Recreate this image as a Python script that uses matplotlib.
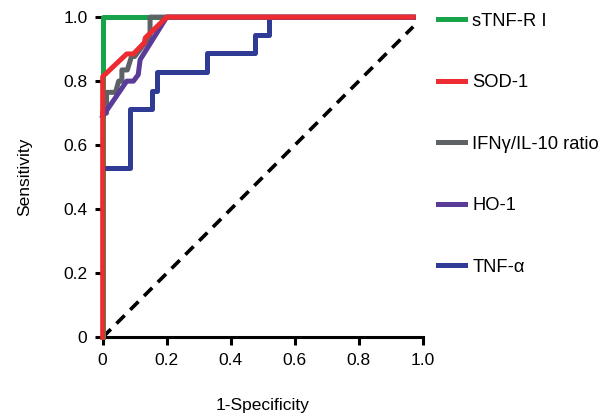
import matplotlib
matplotlib.use('Agg')
import matplotlib.pyplot as plt

plt.rcParams['font.family'] = ['Liberation Sans', 'DejaVu Sans']

# ROC curves (1-specificity, sensitivity)
stnf_x = [0, 0, 0.97]
stnf_y = [0, 1.0, 1.0]

sod_x = [0, 0, 0.075, 0.096, 0.13, 0.133, 0.2, 0.97]
sod_y = [0, 0.814, 0.885, 0.885, 0.92, 0.935, 1.0, 1.0]

ifn_x = [0, 0.012, 0.012, 0.04, 0.05, 0.06, 0.06, 0.077, 0.09, 0.10, 0.148, 0.148, 0.97]
ifn_y = [0.70, 0.70, 0.765, 0.765, 0.80, 0.80, 0.835, 0.835, 0.877, 0.877, 0.94, 1.0, 1.0]

ho_x = [0, 0.075, 0.096, 0.111, 0.117, 0.2, 0.97]
ho_y = [0.69, 0.80, 0.80, 0.82, 0.867, 1.0, 1.0]

tnf_x = [0, 0.085, 0.085, 0.153, 0.153, 0.169, 0.169, 0.325, 0.325, 0.476, 0.476, 0.518, 0.518, 0.97]
tnf_y = [0.53, 0.53, 0.713, 0.713, 0.77, 0.77, 0.83, 0.83, 0.8875, 0.8875, 0.945, 0.945, 1.0, 1.0]

ref_x = [0, 0.97]
ref_y = [0, 0.97]

tick_vals = [0, 0.2, 0.4, 0.6, 0.8, 1.0]
tick_labels = ['0', '0.2', '0.4', '0.6', '0.8', '1.0']

fig = plt.figure(figsize=(6.04, 4.17), dpi=100)
ax = fig.add_axes([0.17, 0.191, 0.53, 0.768])

lw = 3.6
ax.plot(ref_x, ref_y, color='black', lw=2.6, dashes=(3.2, 2.2), clip_on=False, zorder=3)
l1, = ax.plot(stnf_x, stnf_y, color='#17a34a', lw=lw, clip_on=False, zorder=4, label='sTNF-R I')
l5, = ax.plot(tnf_x, tnf_y, color='#2f3b94', lw=lw, clip_on=False, zorder=5, label='TNF-\u03b1')
l3, = ax.plot(ifn_x, ifn_y, color='#5c6265', lw=lw, clip_on=False, zorder=6, label='IFN\u03b3/IL-10 ratio')
l4, = ax.plot(ho_x, ho_y, color='#5a3b98', lw=lw, clip_on=False, zorder=7, label='HO-1')
l2, = ax.plot(sod_x, sod_y, color='#ee2b30', lw=lw, clip_on=False, zorder=8, label='SOD-1')

ax.set_xlim(0, 1)
ax.set_ylim(0, 1)
ax.set_xticks(tick_vals)
ax.set_xticklabels(tick_labels)
ax.set_yticks(tick_vals)
ax.set_yticklabels(tick_labels)
for s in ['top', 'right']:
    ax.spines[s].set_visible(False)
for s in ['left', 'bottom']:
    ax.spines[s].set_linewidth(2.2)
ax.tick_params(width=2.2, length=6, labelsize=12.5, pad=5)

ax.set_xlabel('1-Specificity', fontsize=12.5, labelpad=22)
ax.set_ylabel('Sensitivity', fontsize=12.5, labelpad=22)

leg = fig.legend(handles=[l1, l2, l3, l4, l5], loc='upper left',
                 bbox_to_anchor=(432 / 604, 1 - 7 / 417), frameon=False,
                 fontsize=13.2, handlelength=1.5, handletextpad=0.4,
                 labelspacing=2.43, borderaxespad=0, borderpad=0.3)

fig.savefig('out.png', dpi=100)
